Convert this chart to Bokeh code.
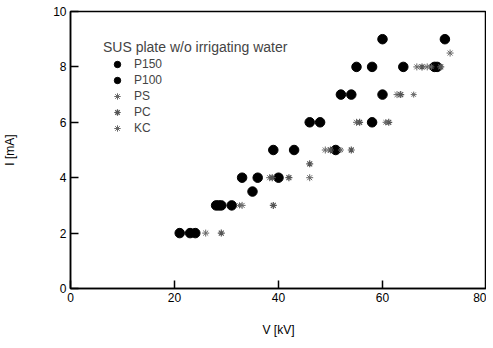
from bokeh.plotting import figure
from bokeh.models import Range1d, FixedTicker, Legend, LegendItem
from bokeh.embed import file_html
from bokeh.resources import INLINE

# Data
p150_v = [21, 24, 28, 29, 33, 39, 46, 52, 55, 60, 64, 72]
p150_i = [2, 2, 3, 3, 4, 5, 6, 7, 8, 9, 8, 9]
p100_v = [23, 28.5, 31, 35, 36, 40, 43, 48, 51, 54, 58, 58, 60, 70, 70.5]
p100_i = [2, 3, 3, 3.5, 4, 4, 5, 6, 5, 7, 6, 8, 7, 8, 8]
ps_v = [26, 33, 38.3, 46, 49, 55, 62.8, 66.6, 68.6, 73]
ps_i = [2, 3, 4, 4, 5, 6, 7, 8, 8, 8.5]
pc_v = [29, 39, 38.8, 42, 46, 50, 54, 55.6, 61.2, 63.5, 67.6, 71.2]
pc_i = [2, 3, 4, 4, 4.5, 5, 5, 6, 6, 7, 8, 8]
kc_v = [32.5, 52, 60.6, 66, 69.4]
kc_i = [3, 5, 6, 7, 8]
x_ticks = [0, 20, 40, 60, 80]
y_ticks = [0, 2, 4, 6, 8, 10]

FONT = "Liberation Sans"

p = figure(frame_width=416, frame_height=277, output_backend="svg", toolbar_location=None,
           x_range=Range1d(0, 80), y_range=Range1d(0, 10),
           min_border_left=70, min_border_right=0, min_border_top=11, min_border_bottom=50)
p.grid.visible = False
p.outline_line_color = "black"
p.outline_line_width = 1.5

for ax, ticks in ((p.xaxis, x_ticks), (p.yaxis, y_ticks)):
    ax.ticker = FixedTicker(ticks=ticks)
    ax.major_tick_in = 8
    ax.major_tick_out = 0
    ax.minor_tick_in = 0
    ax.minor_tick_out = 0
    ax.axis_line_width = 1.5
    ax.major_tick_line_width = 1.5
    ax.major_label_text_font = FONT
    ax.major_label_text_font_size = "12px"
    ax.major_label_text_color = "black"
    ax.axis_label_text_font = FONT
    ax.axis_label_text_font_size = "12px"
    ax.axis_label_text_font_style = "normal"
    ax.axis_label_text_color = "black"

p.xaxis.axis_label = "V [kV]"
p.yaxis.axis_label = "I [mA]"
p.xaxis.axis_label_standoff = 18
p.yaxis.axis_label_standoff = 33
p.xaxis.major_label_standoff = 4
p.yaxis.major_label_standoff = 4

r1 = p.scatter(p150_v, p150_i, marker="circle", size=9.5, fill_color="black", line_color="black")
r2 = p.scatter(p100_v, p100_i, marker="circle", size=9.5, fill_color="black", line_color="black")
r3 = p.scatter(ps_v, ps_i, marker="asterisk", size=7, line_color="#666666", line_width=1)
r4 = p.scatter(pc_v, pc_i, marker="asterisk", size=7, line_color="#555555", line_width=1.2)
r5 = p.scatter(kc_v, kc_i, marker="asterisk", size=6, line_color="#666666", line_width=1)

legend = Legend(items=[
    LegendItem(label="P150", renderers=[r1]),
    LegendItem(label="P100", renderers=[r2]),
    LegendItem(label="PS", renderers=[r3]),
    LegendItem(label="PC", renderers=[r4]),
    LegendItem(label="KC", renderers=[r5]),
], location=(30, 149))
legend.title = "SUS plate w/o irrigating water"
legend.title_text_font = FONT
legend.title_text_font_size = "14px"
legend.title_text_font_style = "normal"
legend.title_standoff = 1
legend.label_text_font = FONT
legend.label_text_font_size = "12px"
legend.label_height = 16
legend.glyph_height = 16
legend.glyph_width = 28
legend.label_standoff = 3
legend.spacing = 0
legend.padding = 3
legend.margin = 0
legend.border_line_alpha = 0
legend.background_fill_alpha = 0
p.add_layout(legend)

open("out.html", "w").write(file_html(p, INLINE))
